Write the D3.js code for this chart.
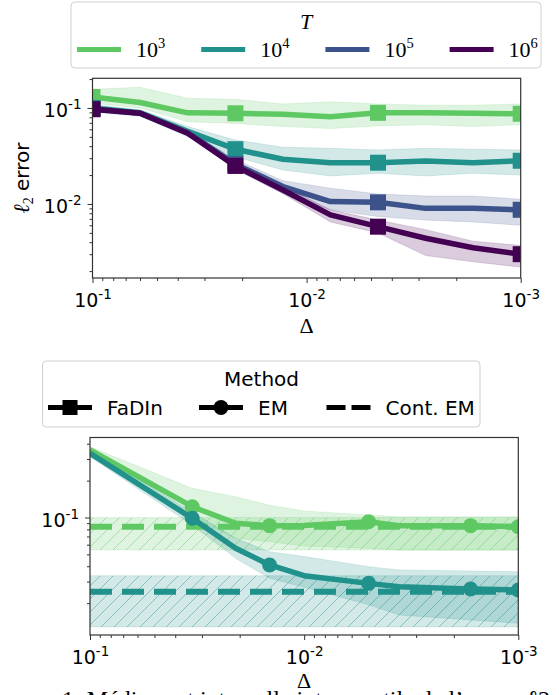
<!DOCTYPE html>
<html>
<head>
<meta charset="utf-8">
<script src="https://cdn.jsdelivr.net/npm/d3@7"></script>
<style>
	body { margin: 0; background: #fff; }
	svg { display: block; }
	text { font-family: 'DejaVu Sans', sans-serif; fill: #000; }
	.serif { font-family: 'Liberation Serif', 'DejaVu Serif', serif; }
</style>
</head>
<body>
<svg id="chart" width="559" height="695"></svg>
<script>
// step sizes of the FaDIn grid (top panel)
const deltas = [0.1, 0.0599, 0.0359, 0.0215, 0.0129, 0.00774, 0.00464, 0.00278, 0.00167, 0.001];
const fadinMarkerIdx = [0, 3, 6, 9];

const tExponents = ['3', '4', '5', '6'];
const tColors = ['#5ec962', '#21918c', '#3b528b', '#440154'];

const fadinT3 = [0.130, 0.114, 0.089, 0.088, 0.086, 0.081, 0.089, 0.089, 0.088, 0.087];
const fadinT3Low = [0.112, 0.100, 0.072, 0.069, 0.064, 0.061, 0.065, 0.067, 0.064, 0.067];
const fadinT3High = [0.157, 0.164, 0.126, 0.123, 0.110, 0.116, 0.110, 0.107, 0.107, 0.110];

const fadinT4 = [0.100, 0.089, 0.057, 0.0372, 0.0292, 0.0269, 0.0269, 0.0281, 0.0269, 0.0282];
const fadinT4Low = [0.090, 0.082, 0.050, 0.031, 0.0226, 0.0196, 0.0209, 0.0196, 0.0209, 0.020];
const fadinT4High = [0.108, 0.096, 0.064, 0.0464, 0.039, 0.038, 0.0365, 0.038, 0.0372, 0.0365];

const fadinT5 = [0.098, 0.088, 0.055, 0.026, 0.0152, 0.0106, 0.0104, 0.0090, 0.0090, 0.0087];
const fadinT5Low = [0.093, 0.084, 0.052, 0.023, 0.013, 0.0087, 0.0074, 0.0068, 0.0065, 0.0060];
const fadinT5High = [0.103, 0.092, 0.058, 0.029, 0.0175, 0.0146, 0.0127, 0.0121, 0.0121, 0.0112];

const fadinT6 = [0.097, 0.088, 0.0545, 0.0249, 0.0140, 0.0077, 0.0058, 0.0044, 0.0035, 0.0030];
const fadinT6Low = [0.093, 0.085, 0.052, 0.023, 0.0128, 0.0065, 0.0050, 0.0029, 0.0025, 0.0022];
const fadinT6High = [0.101, 0.091, 0.057, 0.027, 0.0153, 0.0087, 0.0068, 0.0054, 0.0041, 0.0037];

// EM vs continuous EM (bottom panel), T = 10^3 and 10^4
const emDeltas = [0.1, 0.0333, 0.0209, 0.0145, 0.01, 0.005, 0.0036, 0.00167, 0.001];
const emMarkerIdx = [1, 3, 5, 7, 8];

const emT3 = [0.356, 0.1225, 0.0897, 0.0858, 0.0860, 0.0924, 0.0858, 0.0858, 0.0841];
const emT3Low = [0.334, 0.099, 0.068, 0.0634, 0.0585, 0.0561, 0.054, 0.054, 0.054];
const emT3High = [0.378, 0.173, 0.148, 0.126, 0.113, 0.105, 0.1015, 0.1015, 0.1015];

const emT4 = [0.334, 0.0985, 0.0561, 0.0410, 0.0335, 0.0290, 0.0272, 0.0261, 0.0256];
const emT4Low = [0.313, 0.0868, 0.0464, 0.0319, 0.0270, 0.0194, 0.0160, 0.0146, 0.0137];
const emT4High = [0.356, 0.111, 0.0676, 0.0526, 0.0480, 0.0397, 0.0373, 0.0366, 0.0361];

const contEM = [0.0841, 0.0248];
const contEMLow = [0.0543, 0.0128];
const contEMHigh = [0.100, 0.0335];

const xMajorTicks = [0.1, 0.01, 0.001];
const methodLabels = ['FaDIn', 'EM', 'Cont. EM'];

const svg = d3.select('#chart');
const defs = svg.append('defs');

// hatch patterns for the continuous EM bands
[0, 1].forEach(function(i) {
	let p = defs.append('pattern')
		.attr('id', 'hatch' + i)
		.attr('patternUnits', 'userSpaceOnUse')
		.attr('width', 13)
		.attr('height', 13);
	p.append('path')
		.attr('d', 'M0,13 L13,0 M-3,3 L3,-3 M10,16 L16,10')
		.attr('stroke', tColors[i])
		.attr('stroke-opacity', 0.45)
		.attr('stroke-width', 1);
});

function supText(sel, base, exp, supSize, dy) {
	sel.text(null);
	sel.append('tspan').text(base);
	sel.append('tspan').attr('font-size', supSize).attr('dy', dy).text(exp);
}

function minorTicks(lo, hi) {
	let out = [];
	for (let e = -4; e <= 0; e++)
		for (let m = 2; m <= 9; m++) {
			let v = m * Math.pow(10, e);
			if (v > lo && v < hi) out.push(v);
		}
	return out;
}

function drawAxes(g, x, y, yMajor, box) {
	let xMinor = minorTicks(0.001, 0.1);
	let yd = y.domain();
	let yMinor = minorTicks(Math.min(yd[0], yd[1]), Math.max(yd[0], yd[1]));

	g.append('g')
		.attr('transform', 'translate(0,' + box.bottom + ')')
		.call(d3.axisBottom(x).tickValues(xMinor).tickSize(3).tickFormat(''))
		.call(a => a.select('.domain').remove());
	g.append('g')
		.attr('transform', 'translate(0,' + box.bottom + ')')
		.call(d3.axisBottom(x).tickValues(xMajorTicks).tickSize(5).tickPadding(7))
		.call(a => a.select('.domain').remove())
		.selectAll('.tick text')
		.attr('font-size', 19)
		.attr('dy', '0.9em')
		.each(function(d) {
			supText(d3.select(this), '10', '-' + Math.round(-Math.log10(d)), 13.5, -8);
		});

	g.append('g')
		.attr('transform', 'translate(' + box.left + ',0)')
		.call(d3.axisLeft(y).tickValues(yMinor).tickSize(3).tickFormat(''))
		.call(a => a.select('.domain').remove());
	g.append('g')
		.attr('transform', 'translate(' + box.left + ',0)')
		.call(d3.axisLeft(y).tickValues(yMajor).tickSize(5).tickPadding(6))
		.call(a => a.select('.domain').remove())
		.selectAll('.tick text')
		.attr('font-size', 19)
		.attr('dy', '0.45em')
		.each(function(d) {
			supText(d3.select(this), '10', '-' + Math.round(-Math.log10(d)), 13.5, -8);
		});

	g.selectAll('.tick line').attr('stroke', '#333');

	g.append('rect')
		.attr('x', box.left)
		.attr('y', box.top)
		.attr('width', box.right - box.left)
		.attr('height', box.bottom - box.top)
		.attr('fill', 'none')
		.attr('stroke', '#333')
		.attr('stroke-width', 1.2);
}

function clipFor(id, box) {
	defs.append('clipPath').attr('id', id)
		.append('rect')
		.attr('x', box.left)
		.attr('y', box.top)
		.attr('width', box.right - box.left)
		.attr('height', box.bottom - box.top);
}

// ---------- top panel ----------
const topBox = { left: 92.5, right: 520.7, top: 78.3, bottom: 278 };
const xTop = d3.scaleLog().domain([0.1, 0.001]).range([topBox.left, topBox.right]);
const yTop = d3.scaleLog().domain([Math.pow(10, -0.691), Math.pow(10, -2.771)]).range([topBox.top, topBox.bottom]);
clipFor('clipTop', topBox);

const topSeries = [
	{ mid: fadinT3, low: fadinT3Low, high: fadinT3High },
	{ mid: fadinT4, low: fadinT4Low, high: fadinT4High },
	{ mid: fadinT5, low: fadinT5Low, high: fadinT5High },
	{ mid: fadinT6, low: fadinT6Low, high: fadinT6High }
];

const topPlot = svg.append('g').attr('clip-path', 'url(#clipTop)');

topSeries.forEach(function(s, i) {
	let area = d3.area()
		.x((d, j) => xTop(deltas[j]))
		.y0((d, j) => yTop(s.low[j]))
		.y1((d, j) => yTop(s.high[j]));
	topPlot.append('path')
		.attr('d', area(s.mid))
		.attr('fill', tColors[i])
		.attr('fill-opacity', 0.2)
		.attr('stroke', tColors[i])
		.attr('stroke-opacity', 0.15);
});

topSeries.forEach(function(s, i) {
	let line = d3.line()
		.x((d, j) => xTop(deltas[j]))
		.y(d => yTop(d));
	topPlot.append('path')
		.attr('d', line(s.mid))
		.attr('fill', 'none')
		.attr('stroke', tColors[i])
		.attr('stroke-width', 5.5)
		.attr('stroke-linejoin', 'round');
	topPlot.selectAll(null)
		.data(fadinMarkerIdx)
		.enter()
		.append('rect')
		.attr('x', j => xTop(deltas[j]) - 8)
		.attr('y', j => yTop(s.mid[j]) - 8)
		.attr('width', 16)
		.attr('height', 16)
		.attr('fill', tColors[i]);
});

drawAxes(svg.append('g'), xTop, yTop, [0.1, 0.01], topBox);

// y label
const yLab = svg.append('text')
	.attr('transform', 'translate(29,178) rotate(-90)')
	.attr('text-anchor', 'middle')
	.attr('font-size', 20);
yLab.append('tspan').attr('class', 'serif').attr('font-style', 'italic').attr('font-size', 22).text('ℓ');
yLab.append('tspan').attr('class', 'serif').attr('font-size', 14).attr('dy', 4).text('2');
yLab.append('tspan').attr('dy', -4).text(' error');

svg.append('text')
	.attr('class', 'serif')
	.attr('x', (topBox.left + topBox.right) / 2)
	.attr('y', 333)
	.attr('text-anchor', 'middle')
	.attr('font-size', 22)
	.text('Δ');

// top legend
const legTop = svg.append('g');
legTop.append('rect')
	.attr('x', 71).attr('y', 2).attr('width', 470).attr('height', 66).attr('rx', 4)
	.attr('fill', '#fff').attr('fill-opacity', 0.8)
	.attr('stroke', '#d0d0d0');
legTop.append('text')
	.attr('class', 'serif')
	.attr('x', 306).attr('y', 29)
	.attr('text-anchor', 'middle')
	.attr('font-size', 22)
	.attr('font-style', 'italic')
	.text('T');
tExponents.forEach(function(e, i) {
	let x0 = 77 + i * 124.2;
	legTop.append('line')
		.attr('x1', x0).attr('x2', x0 + 44)
		.attr('y1', 49.5).attr('y2', 49.5)
		.attr('stroke', tColors[i])
		.attr('stroke-width', 5);
	let t = legTop.append('text')
		.attr('class', 'serif')
		.attr('x', x0 + 59).attr('y', 57)
		.attr('font-size', 22);
	supText(t, '10', e, 14.5, -9);
});

// ---------- bottom panel ----------
const botBox = { left: 90, right: 518.3, top: 437.5, bottom: 635 };
const xBot = d3.scaleLog().domain([0.1, 0.001]).range([botBox.left, botBox.right]);
const yBot = d3.scaleLog().domain([Math.pow(10, -0.347), Math.pow(10, -1.959)]).range([botBox.top, botBox.bottom]);
clipFor('clipBot', botBox);

const botPlot = svg.append('g').attr('clip-path', 'url(#clipBot)');

// continuous EM bands (constant over delta)
contEM.forEach(function(v, i) {
	let area = d3.area()
		.x(d => xBot(d))
		.y0(yBot(contEMLow[i]))
		.y1(yBot(contEMHigh[i]));
	botPlot.append('path')
		.attr('d', area([0.1, 0.001]))
		.attr('fill', tColors[i])
		.attr('fill-opacity', 0.2)
		.attr('stroke', tColors[i])
		.attr('stroke-opacity', 0.15);
	botPlot.append('path')
		.attr('d', area([0.1, 0.001]))
		.attr('fill', 'url(#hatch' + i + ')');
});

const emSeries = [
	{ mid: emT3, low: emT3Low, high: emT3High },
	{ mid: emT4, low: emT4Low, high: emT4High }
];

emSeries.forEach(function(s, i) {
	let area = d3.area()
		.x((d, j) => xBot(emDeltas[j]))
		.y0((d, j) => yBot(s.low[j]))
		.y1((d, j) => yBot(s.high[j]));
	botPlot.append('path')
		.attr('d', area(s.mid))
		.attr('fill', tColors[i])
		.attr('fill-opacity', 0.2)
		.attr('stroke', tColors[i])
		.attr('stroke-opacity', 0.15);
});

contEM.forEach(function(v, i) {
	botPlot.append('line')
		.attr('x1', xBot(0.1)).attr('x2', xBot(0.001))
		.attr('y1', yBot(v)).attr('y2', yBot(v))
		.attr('stroke', tColors[i])
		.attr('stroke-width', 6)
		.attr('stroke-dasharray', '22,10');
});

emSeries.forEach(function(s, i) {
	let line = d3.line()
		.x((d, j) => xBot(emDeltas[j]))
		.y(d => yBot(d));
	botPlot.append('path')
		.attr('d', line(s.mid))
		.attr('fill', 'none')
		.attr('stroke', tColors[i])
		.attr('stroke-width', 5.5)
		.attr('stroke-linejoin', 'round');
	botPlot.selectAll(null)
		.data(emMarkerIdx)
		.enter()
		.append('circle')
		.attr('cx', j => xBot(emDeltas[j]))
		.attr('cy', j => yBot(s.mid[j]))
		.attr('r', 7.5)
		.attr('fill', tColors[i]);
});

drawAxes(svg.append('g'), xBot, yBot, [0.1], botBox);

svg.append('text')
	.attr('class', 'serif')
	.attr('x', (botBox.left + botBox.right) / 2)
	.attr('y', 688)
	.attr('text-anchor', 'middle')
	.attr('font-size', 22)
	.text('Δ');

// method legend
const legBot = svg.append('g');
legBot.append('rect')
	.attr('x', 42.5).attr('y', 361).attr('width', 437.5).attr('height', 66).attr('rx', 4)
	.attr('fill', '#fff').attr('fill-opacity', 0.8)
	.attr('stroke', '#d0d0d0');
legBot.append('text')
	.attr('x', 261.5).attr('y', 386)
	.attr('text-anchor', 'middle')
	.attr('font-size', 20)
	.text('Method');

const legX = [48, 199, 326.5];
methodLabels.forEach(function(label, i) {
	let x0 = legX[i];
	let ln = legBot.append('line')
		.attr('x1', x0).attr('x2', x0 + 44)
		.attr('y1', 407.5).attr('y2', 407.5)
		.attr('stroke', '#000')
		.attr('stroke-width', 5);
	if (i == 0)
		legBot.append('rect')
			.attr('x', x0 + 22 - 7.5).attr('y', 400).attr('width', 15).attr('height', 15)
			.attr('fill', '#000');
	if (i == 1)
		legBot.append('circle')
			.attr('cx', x0 + 22).attr('cy', 407.5).attr('r', 7.5)
			.attr('fill', '#000');
	if (i == 2)
		ln.attr('stroke-dasharray', '19,6');
	legBot.append('text')
		.attr('x', x0 + 59).attr('y', 414.5)
		.attr('font-size', 20)
		.text(label);
});

// clipped caption line at the very bottom of the page
svg.append('text')
	.attr('class', 'serif')
	.attr('x', 62)
	.attr('y', 706.5)
	.attr('font-size', 24)
	.text('1: Médiane et intervalle interquartile de l’erreur ℓ2 de');
</script>
</body>
</html>
